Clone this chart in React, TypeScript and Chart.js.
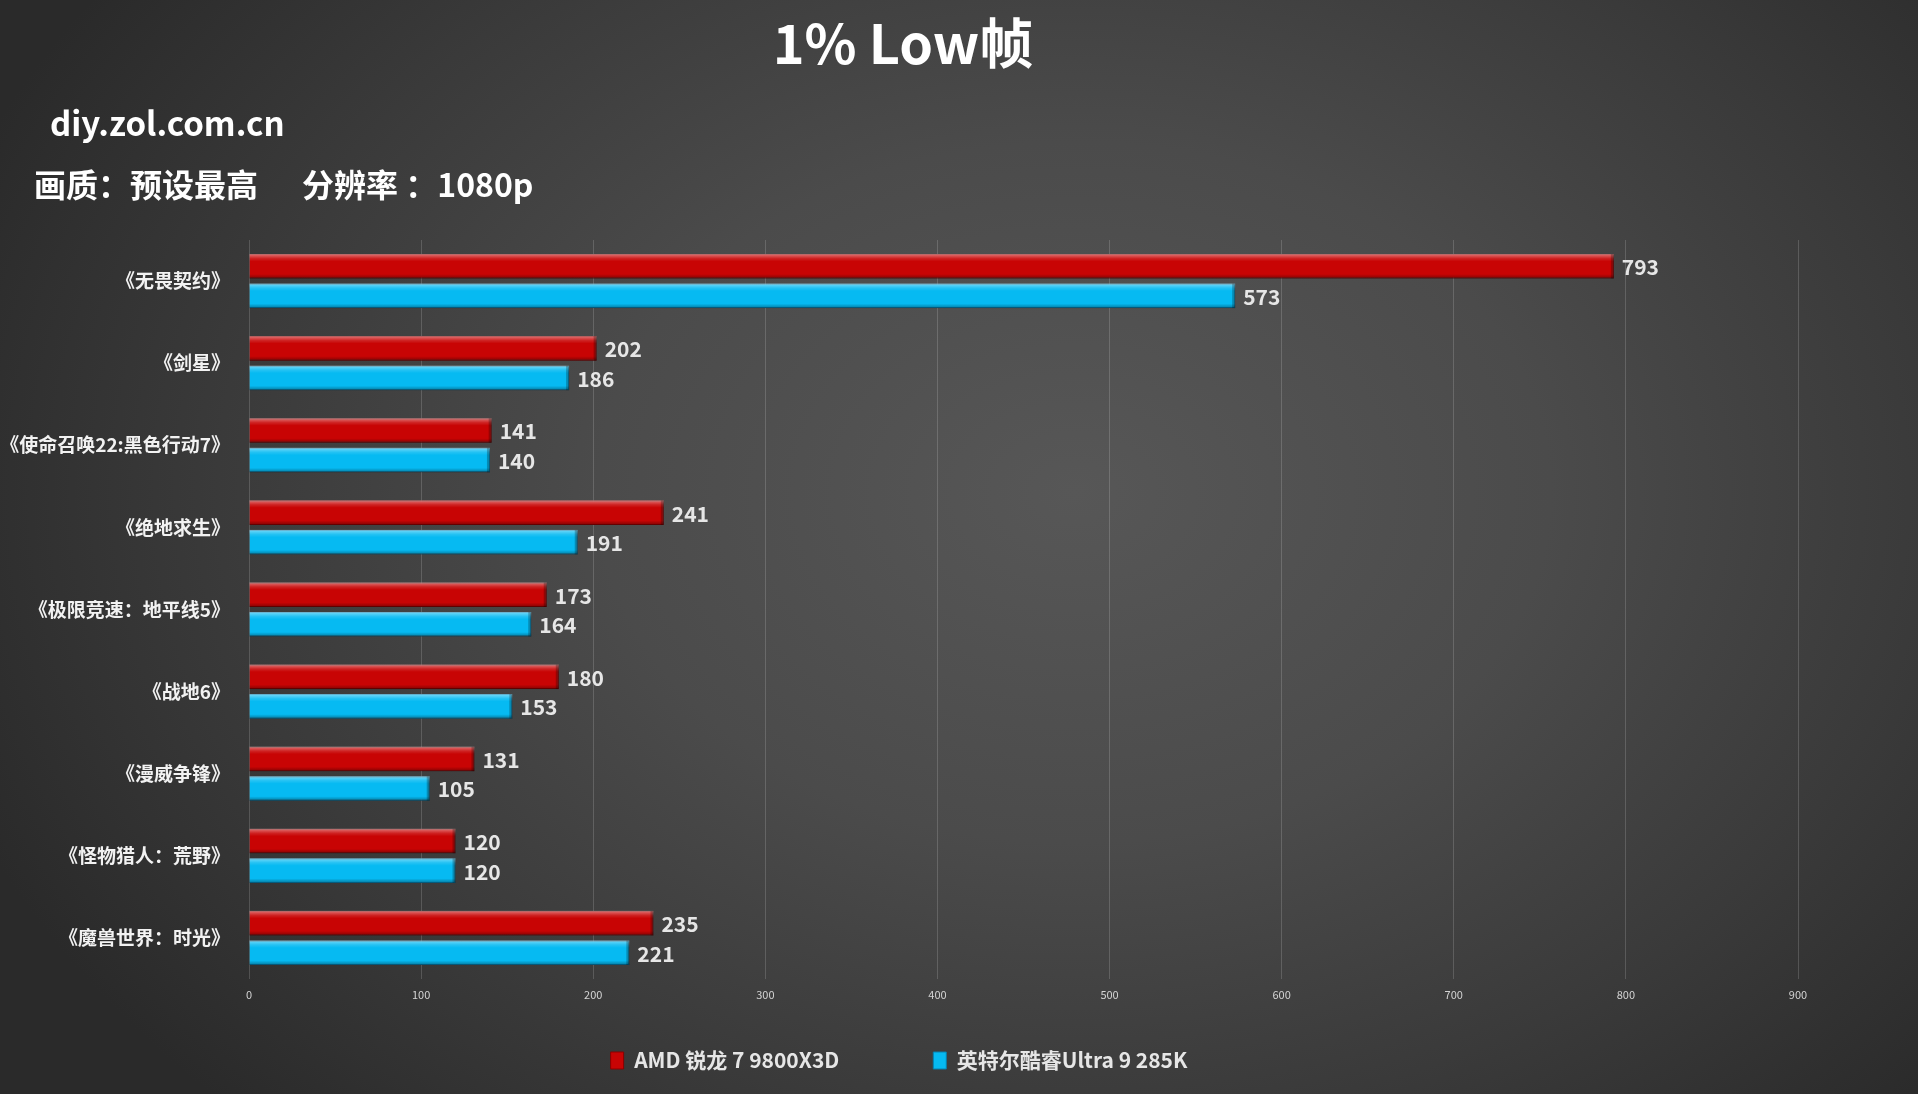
import React, { useEffect, useRef } from "react";
import { Chart, registerables } from "chart.js";

Chart.register(...registerables);

const categories = [
  "《无畏契约》",
  "《剑星》",
  "《使命召唤22:黑色行动7》",
  "《绝地求生》",
  "《极限竞速：地平线5》",
  "《战地6》",
  "《漫威争锋》",
  "《怪物猎人：荒野》",
  "《魔兽世界：时光》",
];
const amdValues = [793, 202, 141, 241, 173, 180, 131, 120, 235];
const intelValues = [573, 186, 140, 191, 164, 153, 105, 120, 221];
const seriesNames = ["AMD 锐龙 7 9800X3D", "英特尔酷睿Ultra 9 285K"];
const xMin = 0;
const xMax = 900;
const xStep = 100;

const FONT = '"Noto Sans CJK SC", "Noto Sans", sans-serif';
const W = 1918;
const H = 1094;

const barShade = {
  id: "barShade",
  afterDatasetsDraw(chart: any) {
    const ctx = chart.ctx;
    chart.data.datasets.forEach((ds: any, di: number) => {
      const meta = chart.getDatasetMeta(di);
      meta.data.forEach((el: any, i: number) => {
        const p = el.getProps(["x", "y", "base", "height"], true);
        const top = p.y - p.height / 2;
        const left = Math.min(p.base, p.x);
        const w = Math.abs(p.x - p.base);
        const g = ctx.createLinearGradient(0, top, 0, top + p.height);
        g.addColorStop(0, "rgba(255,255,255,0.45)");
        g.addColorStop(0.18, "rgba(255,255,255,0.12)");
        g.addColorStop(0.3, "rgba(255,255,255,0)");
        g.addColorStop(0.82, "rgba(0,0,0,0)");
        g.addColorStop(1, "rgba(0,0,0,0.35)");
        ctx.save();
        ctx.fillStyle = g;
        ctx.fillRect(left, top, w, p.height);
        ctx.fillStyle = "rgba(0,0,0,0.25)";
        ctx.fillRect(left + w - 3, top, 3, p.height);
        ctx.restore();
        ctx.save();
        ctx.font = `bold 21px ${FONT}`;
        ctx.fillStyle = "#e6e6e6";
        ctx.textAlign = "left";
        ctx.textBaseline = "middle";
        ctx.fillText(String(ds.data[i]), p.x + 8, p.y + 1);
        ctx.restore();
      });
    });
  },
};

export default function App() {
  const ref = useRef<HTMLCanvasElement | null>(null);

  useEffect(() => {
    document.body.style.margin = "0";
    const canvas = ref.current;
    if (!canvas) return;
    const chart = new Chart(canvas, {
      type: "bar",
      data: {
        labels: categories,
        datasets: [
          {
            label: seriesNames[0],
            data: amdValues,
            backgroundColor: "#C80404",
            borderColor: "#8a0000",
            borderWidth: 1,
            categoryPercentage: 0.72,
            barPercentage: 0.83,
          },
          {
            label: seriesNames[1],
            data: intelValues,
            backgroundColor: "#06BAF2",
            borderColor: "#0680b0",
            borderWidth: 1,
            categoryPercentage: 0.72,
            barPercentage: 0.83,
          },
        ],
      },
      options: {
        indexAxis: "y",
        responsive: false,
        animation: false,
        devicePixelRatio: 1,
        layout: { padding: { top: 240, right: 120, bottom: 13, left: 0 } },
        scales: {
          x: {
            min: xMin,
            max: xMax,
            afterFit: (s: any) => {
              s.height = 61;
            },
            ticks: {
              stepSize: xStep,
              color: "#d4d4d4",
              font: { family: FONT, size: 11 },
              padding: 9,
            },
            grid: {
              color: "rgba(255,255,255,0.16)",
              lineWidth: 1,
              drawTicks: false,
            },
            border: { display: false },
          },
          y: {
            afterFit: (s: any) => {
              s.width = 249;
            },
            ticks: {
              color: "#f2f2f2",
              font: { family: FONT, size: 19, weight: "bold" },
              padding: 19,
            },
            grid: { display: false, drawTicks: false },
            border: { display: false },
          },
        },
        plugins: {
          title: { display: false },
          tooltip: { enabled: false },
          legend: {
            position: "bottom",
            labels: {
              color: "#e6e6e6",
              font: { family: FONT, size: 21, weight: "bold" },
              boxWidth: 13,
              boxHeight: 17,
              padding: 10,
              generateLabels: (c: any) => {
                const items = Chart.defaults.plugins.legend.labels.generateLabels(c);
                return items.map((it: any, idx: number) => ({
                  ...it,
                  text: idx === 0 ? it.text + "\u2003\u2003\u2003\u2003" : it.text,
                  lineWidth: 1,
                }));
              },
            },
          },
        },
      },
      plugins: [barShade],
    } as any);
    return () => chart.destroy();
  }, []);

  return (
    <div
      style={{
        position: "fixed",
        left: 0,
        top: 0,
        width: W,
        height: H,
        overflow: "hidden",
        background:
          "radial-gradient(ellipse 62% 80% at 56% 45%, #575757 0%, #4b4b4b 40%, #3a3a3a 72%, #2a2a2a 100%)",
        fontFamily: FONT,
      }}
    >
      <div
        style={{
          position: "absolute",
          left: 503,
          width: 800,
          top: 12,
          textAlign: "center",
          color: "#ffffff",
          fontSize: 54,
          fontWeight: "bold",
          lineHeight: "58px",
        }}
      >
        1% Low帧
      </div>
      <div
        style={{
          position: "absolute",
          left: 50,
          top: 102,
          color: "#ffffff",
          fontSize: 33,
          fontWeight: "bold",
          lineHeight: "40px",
        }}
      >
        diy.zol.com.cn
      </div>
      <div
        style={{
          position: "absolute",
          left: 34,
          top: 163,
          color: "#ffffff",
          fontSize: 32,
          fontWeight: "bold",
          lineHeight: "40px",
          whiteSpace: "pre",
        }}
      >
        画质：预设最高
      </div>
      <div
        style={{
          position: "absolute",
          left: 302,
          top: 163,
          color: "#ffffff",
          fontSize: 32,
          fontWeight: "bold",
          lineHeight: "40px",
          whiteSpace: "pre",
        }}
      >
        分辨率 ：1080p
      </div>
      <canvas
        ref={ref}
        width={W}
        height={H}
        style={{ position: "absolute", left: 0, top: 0, width: W, height: H }}
      />
    </div>
  );
}
